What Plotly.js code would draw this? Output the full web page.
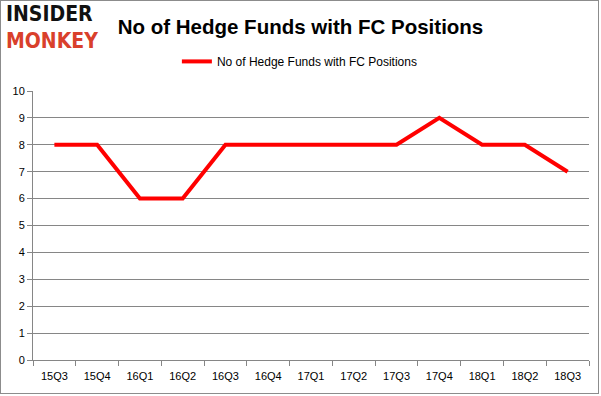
<!DOCTYPE html>
<html>
<head>
<meta charset="utf-8">
<script src="https://cdn.plot.ly/plotly-3.0.1.min.js"></script>
<style>
  html, body { margin: 0; padding: 0; background: #fff; }
  #chart { position: absolute; left: 0; top: 0; width: 601px; height: 396px; }
  #frame { position: absolute; left: 0; top: 0; width: 597px; height: 392px; border: 1px solid #8c8c8c; pointer-events: none; }
</style>
</head>
<body>
<div id="chart"></div>
<div id="frame"></div>
<script>
const categories = ["15Q3","15Q4","16Q1","16Q2","16Q3","16Q4","17Q1","17Q2","17Q3","17Q4","18Q1","18Q2","18Q3"];
const hedgeFunds = [8, 8, 6, 6, 8, 8, 8, 8, 8, 9, 8, 8, 7];
const seriesName = "No of Hedge Funds with FC Positions";
const chartTitle = "No of Hedge Funds with FC Positions";

const trace = {
  x: categories,
  y: hedgeFunds,
  type: "scatter",
  mode: "lines",
  name: seriesName,
  line: { color: "#ff0000", width: 4 }
};

const layout = {
  width: 601,
  height: 396,
  margin: { l: 33, r: 12, t: 91, b: 36 },
  paper_bgcolor: "#ffffff",
  plot_bgcolor: "#ffffff",
  font: { family: "Liberation Sans, Arial, sans-serif", color: "#000000", size: 11 },
  title: {
    text: "<b>" + chartTitle + "</b>",
    font: { family: "Liberation Sans, Arial, sans-serif", size: 20.5, color: "#000000" },
    x: 0.5, xanchor: "center", xref: "container",
    y: 0.933, yanchor: "middle"
  },
  showlegend: true,
  legend: {
    orientation: "h",
    x: 0.48, xanchor: "center",
    y: 1.11, yanchor: "middle",
    font: { size: 12, color: "#000000" },
    bgcolor: "rgba(0,0,0,0)"
  },
  xaxis: {
    type: "category",
    range: [-0.5, 12.5],
    showgrid: false,
    showline: true,
    linecolor: "#868686",
    linewidth: 1,
    ticks: "outside",
    tickson: "boundaries",
    ticklen: 5,
    tickcolor: "#868686",
    ticklabelstandoff: 6,
    tickfont: { size: 11, color: "#000000" },
    fixedrange: true
  },
  yaxis: {
    range: [0, 10],
    dtick: 1,
    tick0: 0,
    showgrid: true,
    gridcolor: "#868686",
    gridwidth: 1,
    showline: true,
    linecolor: "#868686",
    ticks: "outside",
    ticklen: 5,
    tickcolor: "#868686",
    tickfont: { size: 11, color: "#000000" },
    zeroline: false,
    fixedrange: true
  },
  annotations: [
    {
      text: "<b><span style='color:#111111'>INSIDER</span><br><span style='color:#d9402b'>MONKEY</span></b>",
      xref: "paper", yref: "paper",
      x: -0.052, y: 1.237, xanchor: "left", yanchor: "middle",
      align: "left",
      showarrow: false,
      font: { family: "DejaVu Sans Condensed, DejaVu Sans, sans-serif", size: 21, color: "#111111" }
    }
  ]
};

Plotly.newPlot("chart", [trace], layout, { displayModeBar: false, staticPlot: true });
</script>
</body>
</html>
